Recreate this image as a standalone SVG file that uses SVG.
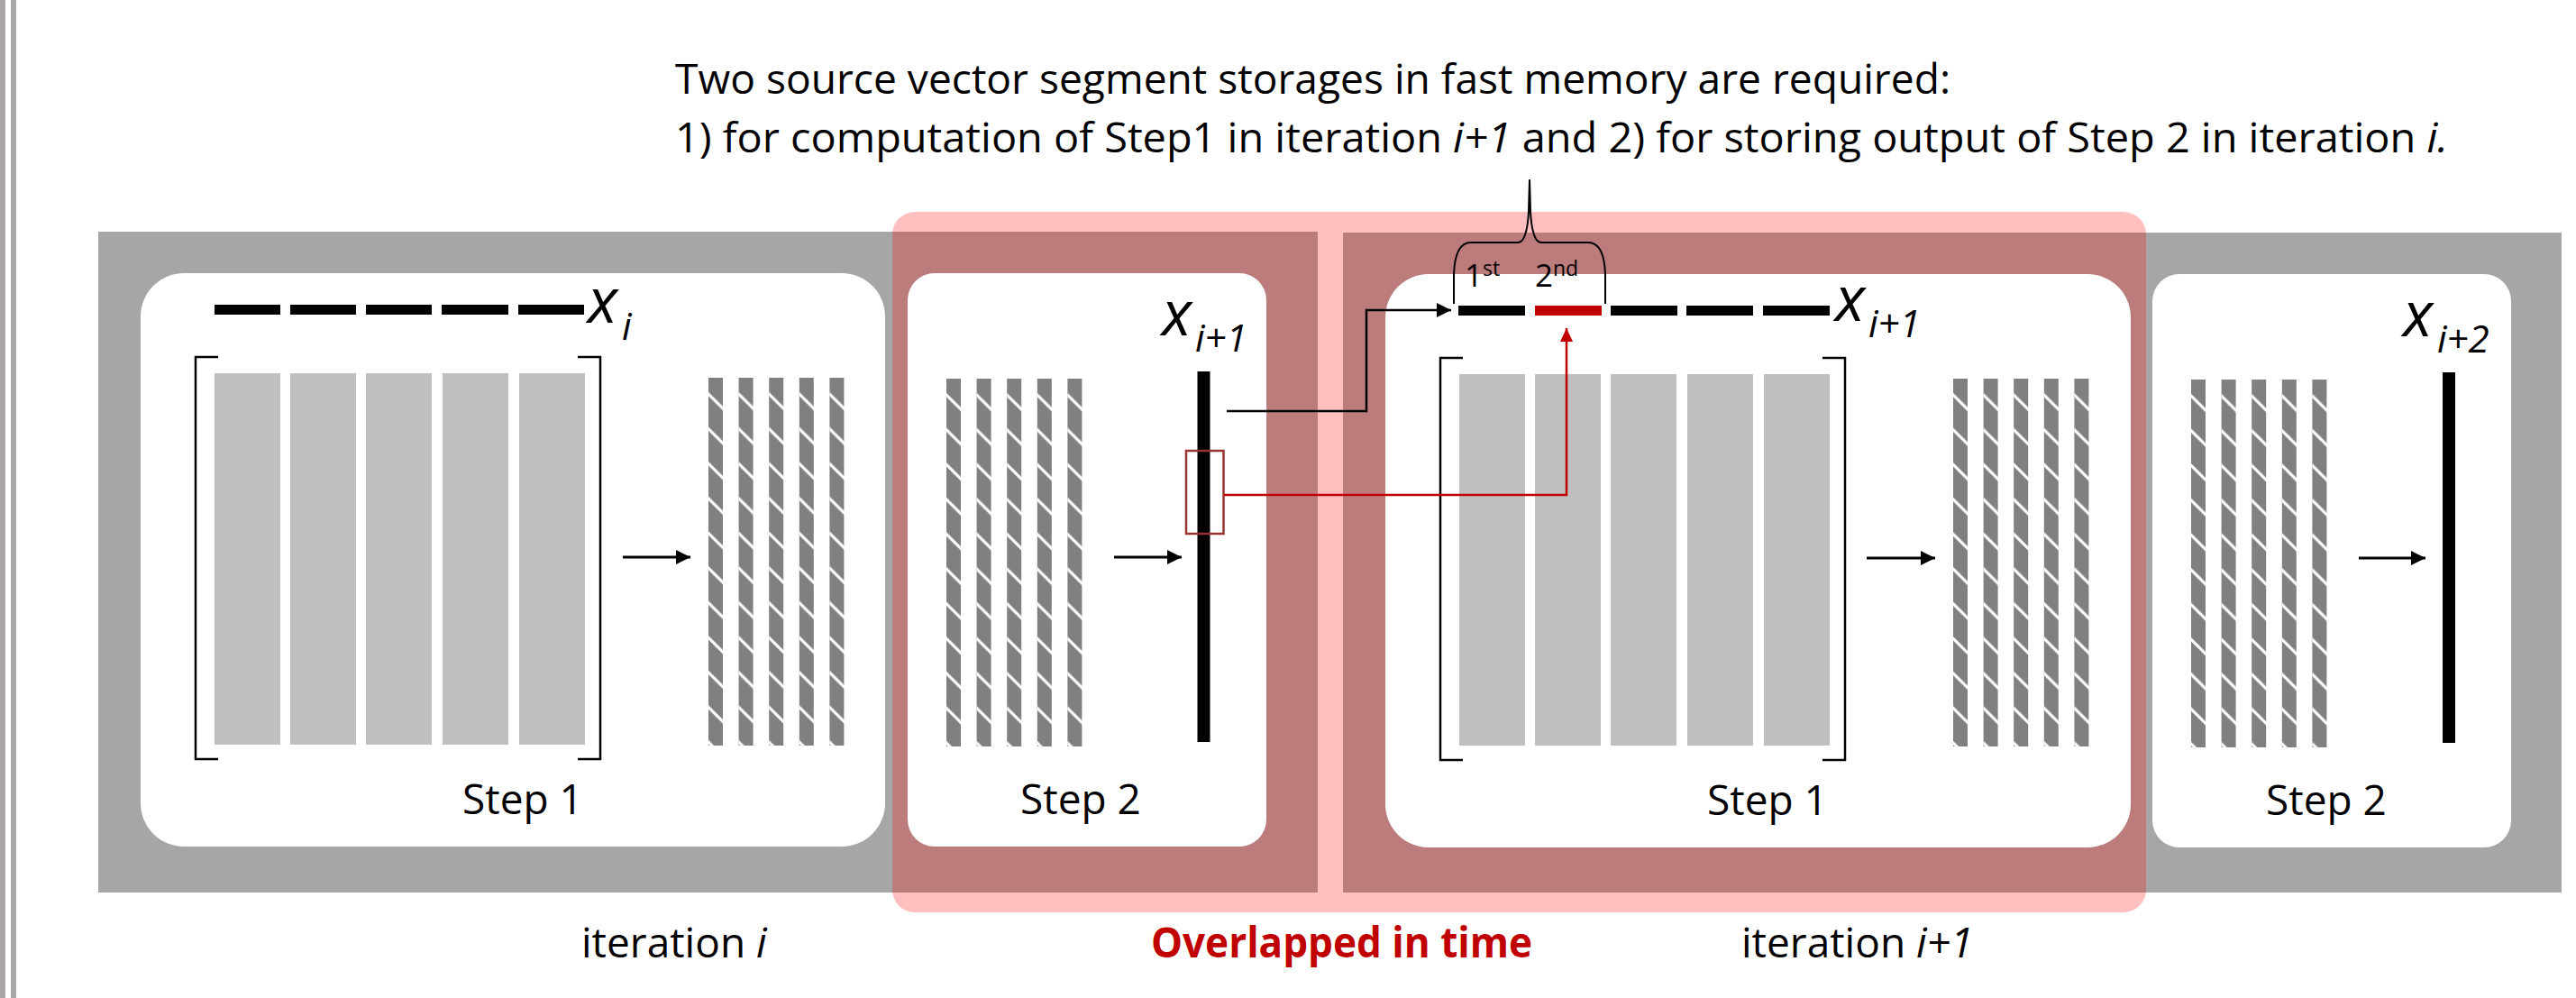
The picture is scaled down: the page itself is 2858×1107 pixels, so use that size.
<svg xmlns="http://www.w3.org/2000/svg" xmlns:xlink="http://www.w3.org/1999/xlink" width="2858" height="1107" viewBox="0 0 2858 1107">
  <style>
    text { font-family: 'Open Sans', 'Noto Sans', sans-serif; fill: #000; }
    .note { font-size: 46px; }
    .step { font-size: 46px; text-anchor: middle; }
    .iter { font-size: 46px; }
    .overlap { font-size: 46px; font-weight: bold; fill: #c00000; }
    .var { font-size: 69px; font-style: italic; }
    .sub { font-size: 42px; font-style: italic; }
    .ord { font-size: 35px; }
    .sup { font-size: 23px; }
    .it { font-style: italic; }
    .band { fill: #a6a6a6; }
    .card { fill: #fff; }
    .mcol { fill: #bfbfbf; }
    .seg { fill: #000; }
    .bracket { fill: none; stroke: #000; stroke-width: 2.5; }
    .flow { fill: none; stroke: #000; stroke-width: 3; }
    .link { fill: none; stroke: #000; stroke-width: 2.5; }
    .link-red { fill: none; stroke: #c00000; stroke-width: 2.5; }
  </style>
  <defs>
    <!-- gray column with white 45 degree cuts -->
    <pattern id="hatch" patternUnits="userSpaceOnUse" width="33.6" height="38.6">
      <rect width="33.6" height="38.6" fill="#808080"/>
      <line x1="-2" y1="16" x2="18" y2="36" stroke="#fff" stroke-width="3.2"/>
    </pattern>
    <g id="hatch-cols">
      <rect x="0" y="0" width="16" height="408" fill="url(#hatch)"/>
      <rect x="33.6" y="0" width="16" height="408" fill="url(#hatch)"/>
      <rect x="67.2" y="0" width="16" height="408" fill="url(#hatch)"/>
      <rect x="100.8" y="0" width="16" height="408" fill="url(#hatch)"/>
      <rect x="134.4" y="0" width="16" height="408" fill="url(#hatch)"/>
    </g>
    <!-- matrix: five light columns inside square brackets -->
    <g id="matrix">
      <path class="bracket" d="M25,0 H0 V446 H25 M424,0 H449 V446 H424"/>
      <rect class="mcol" x="21" y="18" width="73" height="412"/>
      <rect class="mcol" x="105" y="18" width="73" height="412"/>
      <rect class="mcol" x="189" y="18" width="73" height="412"/>
      <rect class="mcol" x="274" y="18" width="73" height="412"/>
      <rect class="mcol" x="359" y="18" width="73" height="412"/>
    </g>
    <marker id="head" markerUnits="userSpaceOnUse" markerWidth="17" markerHeight="16" refX="16" refY="8" orient="auto">
      <path d="M0,0 L16,8 L0,16 z" fill="#000"/>
    </marker>
    <marker id="head-red" markerUnits="userSpaceOnUse" markerWidth="16" markerHeight="14" refX="15" refY="7" orient="auto">
      <path d="M0,0 L15,7 L0,14 z" fill="#c00000"/>
    </marker>
  </defs>

  <rect width="2858" height="1107" fill="#fff"/>

  <!-- page edge rules -->
  <rect x="0" y="0" width="6" height="1107" fill="#aaa6a6"/>
  <rect x="12" y="0" width="6" height="1107" fill="#aaa6a6"/>

  <!-- explanatory note -->
  <g id="note">
    <text class="note" x="749" y="104" textLength="1415" lengthAdjust="spacingAndGlyphs">Two source vector segment storages in fast memory are required:</text>
    <text class="note" x="749" y="169" textLength="1967" lengthAdjust="spacingAndGlyphs">1) for computation of Step1 in iteration <tspan class="it">i+1</tspan> and 2) for storing output of Step 2 in iteration <tspan class="it">i.</tspan></text>
  </g>

  <!-- iteration bands -->
  <g id="iteration-bands">
    <rect class="band" x="109" y="257" width="1353" height="733"/>
    <rect class="band" x="1490" y="258" width="1352" height="732"/>
  </g>

  <!-- overlap region -->
  <g id="overlap-region">
    <rect x="990" y="235" width="1391" height="777" rx="25" ry="25" fill="#ff0000" fill-opacity="0.25"/>
  </g>

  <!-- Step 1, iteration i -->
  <g id="step1-iter-i">
    <rect class="card" x="156" y="303" width="826" height="636" rx="48" ry="48"/>
    <rect class="seg" x="238" y="338" width="73" height="11"/>
    <rect class="seg" x="322" y="338" width="73" height="11"/>
    <rect class="seg" x="406" y="338" width="73" height="11"/>
    <rect class="seg" x="490" y="338" width="74" height="11"/>
    <rect class="seg" x="575" y="338" width="73" height="11"/>
    <text class="var" x="652" y="358">x</text>
    <text class="sub" x="690" y="377">i</text>
    <use xlink:href="#matrix" href="#matrix" transform="translate(217,396)"/>
    <line class="flow" x1="691" y1="618" x2="766" y2="618" marker-end="url(#head)"/>
    <use xlink:href="#hatch-cols" href="#hatch-cols" transform="translate(786,419)"/>
    <text class="step" x="580" y="903">Step 1</text>
  </g>

  <!-- Step 2, iteration i -->
  <g id="step2-iter-i">
    <rect class="card" x="1007" y="303" width="398" height="636" rx="30" ry="30"/>
    <use xlink:href="#hatch-cols" href="#hatch-cols" transform="translate(1050,420)"/>
    <line class="flow" x1="1236" y1="618" x2="1311" y2="618" marker-end="url(#head)"/>
    <rect class="seg" x="1328.5" y="412" width="14" height="411"/>
    <text class="var" x="1289" y="372">x</text>
    <text class="sub" x="1326" y="390">i+1</text>
    <rect x="1316" y="500" width="41.5" height="92" fill="none" stroke="#993333" stroke-width="2.5"/>
    <text class="step" x="1199" y="903">Step 2</text>
  </g>

  <!-- Step 1, iteration i+1 -->
  <g id="step1-iter-i1">
    <rect class="card" x="1537" y="304" width="827" height="636" rx="48" ry="48"/>
    <rect class="seg" x="1618" y="339" width="74" height="11"/>
    <rect x="1703" y="339" width="74" height="11" fill="#c00000"/>
    <rect class="seg" x="1787" y="339" width="74" height="11"/>
    <rect class="seg" x="1871" y="339" width="74" height="11"/>
    <rect class="seg" x="1956" y="339" width="74" height="11"/>
    <text class="var" x="2036" y="356">x</text>
    <text class="sub" x="2073" y="374">i+1</text>
    <use xlink:href="#matrix" href="#matrix" transform="translate(1598,397)"/>
    <line class="flow" x1="2071" y1="619" x2="2147" y2="619" marker-end="url(#head)"/>
    <use xlink:href="#hatch-cols" href="#hatch-cols" transform="translate(2167,420)"/>
    <text class="step" x="1961" y="904">Step 1</text>
  </g>

  <!-- Step 2, iteration i+1 -->
  <g id="step2-iter-i1">
    <rect class="card" x="2388" y="304" width="398" height="636" rx="30" ry="30"/>
    <use xlink:href="#hatch-cols" href="#hatch-cols" transform="translate(2431,421)"/>
    <line class="flow" x1="2617" y1="619" x2="2691" y2="619" marker-end="url(#head)"/>
    <rect class="seg" x="2710" y="413" width="14" height="411"/>
    <text class="var" x="2666" y="373">x</text>
    <text class="sub" x="2704" y="391">i+2</text>
    <text class="step" x="2581" y="904">Step 2</text>
  </g>

  <!-- brace over the two segment slots -->
  <g id="slots-brace">
    <path d="M1613,337 L1613,305 Q1614,269 1632,269 L1684,269 Q1694,269 1696,235 L1697,199 L1698,235 Q1700,269 1710,269 L1762,269 Q1780,269 1781,305 L1781,337" fill="none" stroke="#000" stroke-width="2"/>
    <text class="ord" x="1625" y="318">1<tspan class="sup" dy="-12">st</tspan></text>
    <text class="ord" x="1703" y="318">2<tspan class="sup" dy="-12">nd</tspan></text>
  </g>

  <!-- data movement between steps -->
  <g id="connectors">
    <polyline class="link" points="1361,456 1516,456 1516,344 1610,344" marker-end="url(#head)"/>
    <polyline class="link-red" points="1358,549 1738,549 1738,364" marker-end="url(#head-red)"/>
  </g>

  <!-- timeline captions -->
  <g id="captions">
    <text class="iter" x="645" y="1062">iteration <tspan class="it">i</tspan></text>
    <text class="overlap" x="1277" y="1062" textLength="423" lengthAdjust="spacingAndGlyphs">Overlapped in time</text>
    <text class="iter" x="1932" y="1062">iteration <tspan class="it">i+1</tspan></text>
  </g>
</svg>
